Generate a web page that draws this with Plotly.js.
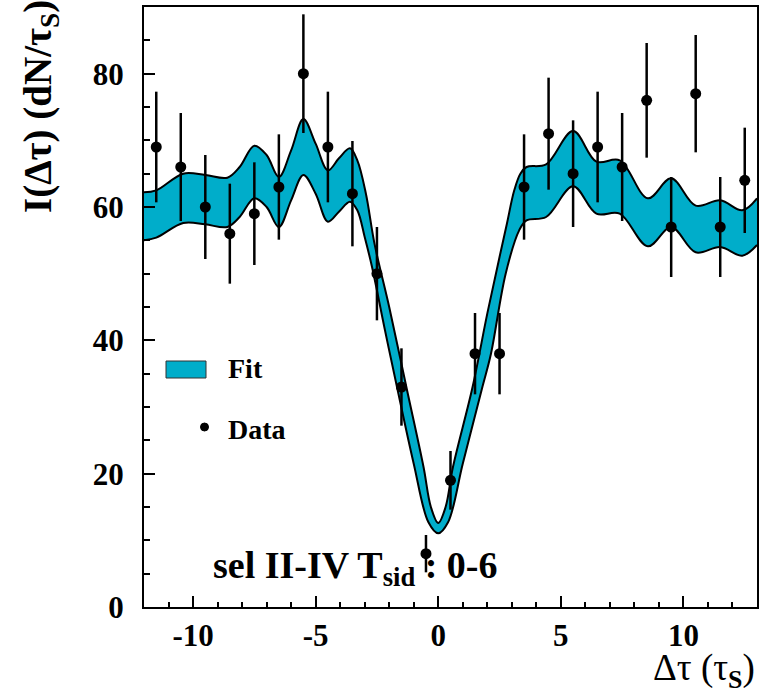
<!DOCTYPE html>
<html>
<head>
<meta charset="utf-8">
<script src="https://cdn.plot.ly/plotly-3.0.1.min.js"></script>
<style>html,body{margin:0;padding:0;background:#fff;}#chart{width:761px;height:688px;}</style>
</head>
<body>
<div id="chart"></div>
<script>
// Data points (bin centers, counts, errors)
const binCenters = [-11.5,-10.5,-9.5,-8.5,-7.5,-6.5,-5.5,-4.5,-3.5,-2.5,-1.5,-0.5,0.5,1.5,2.5,3.5,4.5,5.5,6.5,7.5,8.5,9.5,10.5,11.5,12.5];
const counts = [69,66,60,56,59,63,80,69,62,50,33,8,19,38,38,63,71,65,69,66,76,57,77,57,64];
const countErrors = [8.3,8.1,7.8,7.5,7.7,7.9,8.9,8.3,7.9,7.0,5.8,2.8,4.4,6.1,6.1,7.9,8.4,8.0,8.3,8.1,8.6,7.5,8.8,7.5,7.9];

// Fit band: upper edge
const fitUpperX = [-12,-11.5,-10.4,-9.5,-8.6,-8.1,-7.5,-7.0,-6.5,-6.0,-5.5,-5.0,-4.5,-4.05,-3.6,-3.3,-2.95,-2.6,-2.0,-1.3,-0.6,-0.3,0,0.3,0.6,1.4,2.0,2.5,2.8,3.1,3.35,3.6,4.4,5.5,6.45,7.4,8.55,9.5,10.5,11.5,12.4,13];
const fitUpperY = [62.2,62.5,65.0,64.8,64.4,66.0,69.2,67.8,64.5,68.5,73.2,69.5,65.5,67.3,68.8,67.0,62.0,54.5,45.0,33.0,21.0,15.0,12.6,15.0,21.0,33.0,44.0,52.5,57.5,62.5,65.0,66.0,66.4,71.4,66.8,67.0,61.3,64.3,60.2,61.0,59.5,61.3];
// Fit band: lower edge
const fitLowerX = [-12,-11.5,-10.4,-9.5,-8.6,-8.1,-7.5,-7.0,-6.5,-6.0,-5.5,-5.0,-4.5,-4.05,-3.6,-3.3,-3.0,-2.7,-2.2,-1.7,-1.0,-0.4,0,0.4,1.0,1.8,2.15,2.75,3.3,3.6,4.4,5.5,6.45,7.4,8.55,9.5,10.5,11.5,12.4,13];
const fitLowerY = [55.0,55.4,57.6,57.4,57.0,58.5,61.3,60.0,57.0,61.0,64.8,62.0,57.8,59.3,60.8,59.5,55.5,51.0,42.0,33.3,21.5,12.7,11.05,12.7,21.5,33.0,38.0,50.0,56.5,58.0,58.5,63.1,59.0,59.0,54.1,57.0,53.2,54.0,52.7,54.3];

const xTickVals = [-10,-5,0,5,10];
const yTickVals = [0,20,40,60,80];

const bandColor = '#00adca';
const serif = 'Liberation Serif, Times New Roman, serif';

const traces = [
  {x: fitLowerX, y: fitLowerY, mode: 'lines', line: {color: 'black', width: 2, shape: 'spline', smoothing: 1}, hoverinfo: 'skip'},
  {x: fitUpperX, y: fitUpperY, mode: 'lines', fill: 'tonexty', fillcolor: bandColor, line: {color: 'black', width: 2, shape: 'spline', smoothing: 1}, hoverinfo: 'skip'},
  {x: binCenters, y: counts, mode: 'markers', marker: {color: 'black', size: 11},
   error_y: {type: 'data', array: countErrors, visible: true, color: 'black', thickness: 2.5, width: 0}}
];

function px2x(p){ return (p - 144) / 613; }
function px2y(p){ return (607 - p) / 600; }

const layout = {
  width: 761, height: 688,
  margin: {l: 144, r: 4, t: 7, b: 81},
  paper_bgcolor: 'white', plot_bgcolor: 'white',
  showlegend: false,
  font: {family: serif, color: 'black'},
  xaxis: {
    range: [-12, 13], tickvals: xTickVals, ticktext: xTickVals.map(String),
    ticks: 'inside', ticklen: 11, tickwidth: 2, tickcolor: 'black',
    minor: {dtick: 1, tick0: 0, ticks: 'inside', ticklen: 5, tickwidth: 2, tickcolor: 'black', showgrid: false},
    showline: true, linewidth: 2, linecolor: 'black', mirror: true,
    showgrid: false, zeroline: false,
    tickfont: {family: serif, size: 31, weight: 'bold', color: 'black'},
    ticklabelstandoff: 0
  },
  yaxis: {
    range: [0, 90], tickvals: yTickVals, ticktext: yTickVals.map(String),
    ticks: 'inside', ticklen: 11, tickwidth: 2, tickcolor: 'black',
    minor: {dtick: 5, tick0: 0, ticks: 'inside', ticklen: 6, tickwidth: 2, tickcolor: 'black', showgrid: false},
    showline: true, linewidth: 2, linecolor: 'black', mirror: true,
    showgrid: false, zeroline: false,
    tickfont: {family: serif, size: 31, weight: 'bold', color: 'black'},
    ticklabelstandoff: 12
  },
  shapes: [
    {type: 'rect', xref: 'paper', yref: 'paper', x0: px2x(166), x1: px2x(206), y0: px2y(378), y1: px2y(361),
     fillcolor: bandColor, line: {color: '#333', width: 1}},
    {type: 'circle', xref: 'paper', yref: 'paper', x0: px2x(200.5), x1: px2x(208.5), y0: px2y(431), y1: px2y(423),
     fillcolor: 'black', line: {color: 'black', width: 1}}
  ],
  annotations: [
    {text: '<b>I(Δτ) (dN/τ<sub>S</sub>)</b>', xref: 'paper', yref: 'paper', x: px2x(40), y: px2y(106),
     xanchor: 'center', yanchor: 'middle', textangle: -90, showarrow: false,
     font: {family: serif, size: 39, color: 'black'}},
    {text: 'Δτ (τ<sub><b>S</b></sub>)', xref: 'paper', yref: 'paper', x: 1.0, y: px2y(670),
     xanchor: 'right', yanchor: 'middle', showarrow: false,
     font: {family: serif, size: 37, color: 'black'}},
    {text: '<b>sel II-IV T<sub>sid</sub> : 0-6</b>', xref: 'paper', yref: 'paper', x: px2x(355), y: px2y(568),
     xanchor: 'center', yanchor: 'middle', showarrow: false,
     font: {family: serif, size: 38, color: 'black'}},
    {text: '<b>Fit</b>', xref: 'paper', yref: 'paper', x: px2x(226), y: px2y(369),
     xanchor: 'left', yanchor: 'middle', showarrow: false, font: {family: serif, size: 28, color: 'black'}},
    {text: '<b>Data</b>', xref: 'paper', yref: 'paper', x: px2x(226), y: px2y(429),
     xanchor: 'left', yanchor: 'middle', showarrow: false, font: {family: serif, size: 28, color: 'black'}}
  ]
};

Plotly.newPlot('chart', traces, layout, {displayModeBar: false, staticPlot: true});
</script>
</body>
</html>
